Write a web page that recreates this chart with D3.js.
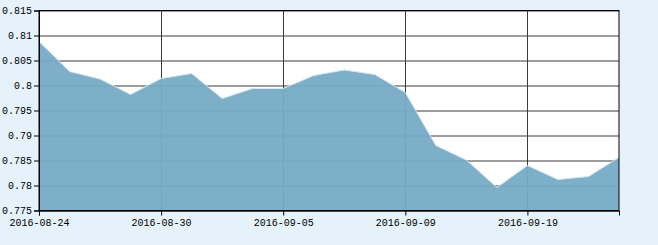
<!DOCTYPE html>
<html>
<head>
<meta charset="utf-8">
<script src="https://cdn.jsdelivr.net/npm/d3@7"></script>
<style>
  html, body { margin: 0; padding: 0; background: #e6f2fa; }
  svg { display: block; }
  .axis text { font-family: "Liberation Mono", "DejaVu Sans Mono", monospace; font-size: 10px; fill: #000; }
</style>
</head>
<body>
<svg id="chart"></svg>
<script>
// trading days shown on the chart
const dates = [
  "2016-08-24", "2016-08-25", "2016-08-26", "2016-08-29", "2016-08-30",
  "2016-08-31", "2016-09-01", "2016-09-02", "2016-09-05", "2016-09-06",
  "2016-09-07", "2016-09-08", "2016-09-09", "2016-09-12", "2016-09-13",
  "2016-09-14", "2016-09-19", "2016-09-20", "2016-09-21", "2016-09-22"
];
const values = [
  0.8088, 0.8028, 0.8013, 0.7982, 0.8014,
  0.8024, 0.7974, 0.7994, 0.7994, 0.8020,
  0.8031, 0.8022, 0.7986, 0.7880, 0.7851,
  0.7796, 0.7840, 0.7812, 0.7818, 0.7856
];
const yTicks = [0.775, 0.78, 0.785, 0.79, 0.795, 0.8, 0.805, 0.81, 0.815];
const xTickLabels = ["2016-08-24", "2016-08-30", "2016-09-05", "2016-09-09", "2016-09-19"];

const W = 658, H = 245;
const margin = { top: 10.5, right: 39, bottom: 34.5, left: 39 };
const width = W - margin.left - margin.right;
const height = H - margin.top - margin.bottom;

const svg = d3.select("#chart").attr("width", W).attr("height", H);
const g = svg.append("g").attr("transform", `translate(${margin.left},${margin.top})`);

const x = d3.scalePoint().domain(dates).range([0, width]);
const y = d3.scaleLinear().domain([0.775, 0.815]).range([height, 0]);

const data = dates.map((d, i) => ({ date: d, value: values[i] }));

// plot background
g.append("rect").attr("width", width).attr("height", height).attr("fill", "#fff");

// grid
g.append("g").selectAll("line").data(yTicks).enter().append("line")
  .attr("x1", 0).attr("x2", width)
  .attr("y1", d => Math.round(y(d)) + 0.5).attr("y2", d => Math.round(y(d)) + 0.5)
  .attr("stroke", "#3a3a3a").attr("stroke-width", 1);
g.append("g").selectAll("line").data(xTickLabels).enter().append("line")
  .attr("x1", d => Math.round(x(d)) + 0.5).attr("x2", d => Math.round(x(d)) + 0.5)
  .attr("y1", 0).attr("y2", height)
  .attr("stroke", "#3a3a3a").attr("stroke-width", 1);

// area
const area = d3.area()
  .x(d => x(d.date))
  .y0(height)
  .y1(d => y(d.value));
g.append("path").datum(data)
  .attr("d", area)
  .attr("fill", "#77abc6")
  .attr("fill-opacity", 0.95);
g.append("path").datum(data)
  .attr("d", d3.line().x(d => x(d.date)).y(d => y(d.value)))
  .attr("fill", "none")
  .attr("stroke", "#d4e8f4")
  .attr("stroke-width", 1);

// frame
g.append("rect").attr("x", 0).attr("y", 0).attr("width", width).attr("height", height)
  .attr("fill", "none").attr("stroke", "#000").attr("stroke-width", 1);

// axes
const yAxis = g.append("g").attr("class", "axis")
  .call(d3.axisLeft(y).tickValues(yTicks).tickSize(5).tickPadding(2).tickFormat(d => String(+d.toFixed(3))));
const xAxis = g.append("g").attr("class", "axis")
  .attr("transform", `translate(0,${height})`)
  .call(d3.axisBottom(x).tickValues(xTickLabels).tickSize(5).tickPadding(3));
[yAxis, xAxis].forEach(a => {
  a.select(".domain").attr("stroke", "#000");
  a.selectAll(".tick line").attr("stroke", "#000");
});
</script>
</body>
</html>
